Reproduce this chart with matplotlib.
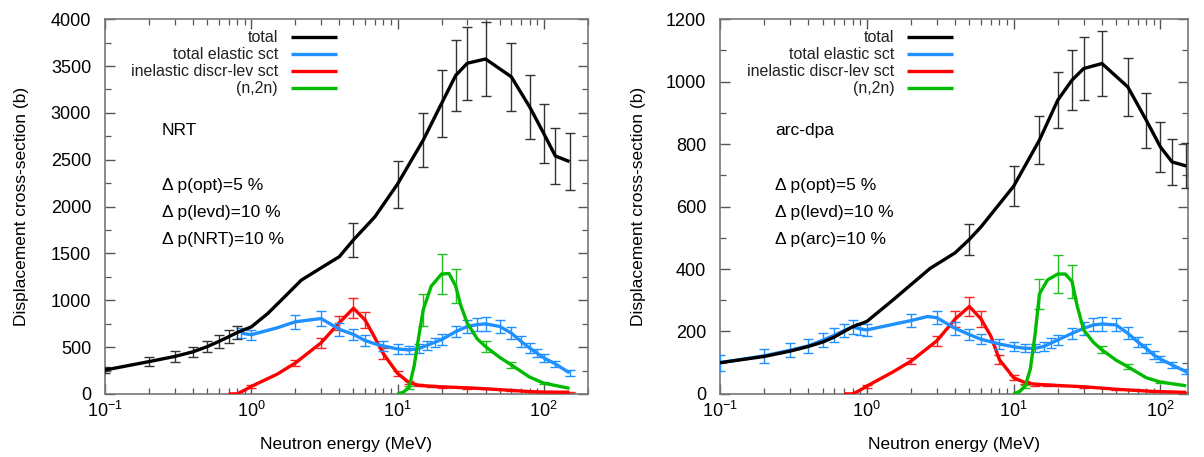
import numpy as np
import matplotlib
matplotlib.use("Agg")
import matplotlib.pyplot as plt
from matplotlib.ticker import LogLocator, MultipleLocator

plt.rcParams['font.family'] = ['Liberation Sans', 'DejaVu Sans']
plt.rcParams['mathtext.fontset'] = 'custom'
plt.rcParams['mathtext.rm'] = 'Liberation Sans'

# ---- left panel: NRT ----
nrt_tot_e = [0.1, 0.2, 0.3, 0.4, 0.5, 0.6, 0.7, 0.8, 1.0, 1.3, 1.7, 2.2, 3.0, 4.0, 5.0, 7.0,
             10, 15, 20, 25, 30, 40, 60, 80, 100, 120, 150]
nrt_tot_v = [255, 345, 400, 450, 505, 560, 610, 655, 715, 860, 1040, 1215, 1345, 1465, 1645, 1890,
             2240, 2710, 3100, 3400, 3530, 3575, 3385, 3065, 2780, 2540, 2480]
nrt_tot_err = [30, 50, 55, 55, 60, 65, 70, 70, 0, 0, 0, 0, 0, 0, 180, 0,
               250, 290, 355, 375, 390, 400, 365, 340, 315, 295, 300]

nrt_el_e = [0.85, 1.0, 1.5, 2.0, 3.0, 4.0, 5.0, 6.0, 7.0, 8.0, 9.0, 10, 12, 14, 16, 18, 20,
            25, 30, 35, 40, 50, 60, 70, 80, 90, 100, 120, 150]
nrt_el_v = [650, 632, 705, 770, 805, 690, 635, 570, 535, 512, 495, 480, 470, 485, 520, 552, 580,
            665, 720, 740, 748, 720, 650, 560, 490, 435, 385, 320, 225]
nrt_el_err = [55, 55, 0, 75, 80, 70, 60, 55, 0, 50, 0, 50, 45, 45, 50, 50, 55,
              60, 65, 70, 75, 70, 65, 55, 50, 45, 40, 35, 30]

nrt_in_e = [0.7, 0.8, 0.9, 1.0, 1.5, 2.0, 3.0, 4.0, 5.0, 6.0, 7.0, 8.0, 10, 12, 14, 17, 20,
            30, 40, 60, 80, 100, 150]
nrt_in_v = [0, 0, 40, 80, 210, 330, 545, 760, 915, 790, 600, 430, 220, 120, 92, 82, 76,
            65, 55, 38, 25, 20, 18]
nrt_in_err = [0, 0, 0, 15, 0, 30, 50, 75, 105, 85, 0, 60, 30, 15, 10, 10, 8,
              8, 6, 5, 4, 3, 3]

nrt_n2n_e = [10, 11, 12, 13, 14, 15, 17, 20, 22.5, 25, 27, 30, 35, 40, 50, 60, 80, 100, 150]
nrt_n2n_v = [0, 20, 70, 300, 620, 900, 1150, 1280, 1285, 1150, 950, 755, 590, 505, 390, 310, 180, 115, 60]
nrt_n2n_err = [0, 0, 15, 0, 0, 170, 0, 210, 0, 180, 0, 0, 0, 60, 0, 30, 0, 10, 0]

# ---- right panel: arc-dpa ----
arc_tot_e = [0.1, 0.2, 0.3, 0.4, 0.5, 0.6, 0.7, 0.8, 1.0, 1.5, 2.0, 2.7, 3.5, 4.0, 5.0, 6.0,
             10, 15, 20, 25, 30, 40, 60, 80, 100, 120, 150]
arc_tot_v = [100, 120, 137, 152, 166, 182, 200, 215, 232, 300, 350, 402, 435, 452, 495, 535,
             665, 813, 941, 1005, 1042, 1058, 983, 877, 791, 743, 730]
arc_tot_err = [0, 0, 0, 0, 0, 0, 0, 0, 0, 0, 0, 0, 0, 0, 50, 0,
               64, 77, 89, 96, 100, 104, 94, 88, 80, 74, 72]

arc_el_e = [0.1, 0.2, 0.3, 0.4, 0.5, 0.6, 0.7, 0.8, 0.9, 1.0, 2.0, 2.6, 3.0, 4.0, 5.0, 6.0, 8.0,
            10, 12, 14, 16, 18, 20, 25, 30, 35, 40, 50, 60, 70, 80, 90, 100, 120, 150]
arc_el_v = [100, 122, 140, 154, 172, 188, 203, 215, 208, 205, 235, 248, 244, 210, 190, 175, 160,
            151, 146, 146, 152, 163, 173, 194, 210, 221, 224, 221, 194, 167, 146, 125, 112, 93, 71]
arc_el_err = [25, 22, 22, 22, 22, 22, 22, 22, 20, 20, 20, 0, 20, 20, 18, 16, 15,
              14, 13, 13, 14, 15, 16, 18, 20, 21, 22, 21, 19, 16, 14, 12, 11, 9, 8]

arc_in_e = [0.7, 0.8, 0.9, 1.0, 1.5, 2.0, 3.0, 4.0, 5.0, 6.0, 7.0, 8.0, 10, 12, 14, 17, 20,
            30, 50, 90, 150]
arc_in_v = [0, 0, 12, 25, 70, 105, 170, 240, 280, 240, 185, 110, 52, 36, 31, 29, 27,
            23, 15, 8, 5]
arc_in_err = [0, 0, 0, 5, 0, 10, 17, 25, 30, 25, 0, 15, 8, 5, 4, 3, 3, 3, 2, 1, 1]

arc_n2n_e = [10, 11, 12, 13, 14, 15, 17, 20, 22.5, 25, 27, 30, 35, 40, 50, 60, 80, 100, 150]
arc_n2n_v = [0, 8, 25, 80, 190, 320, 365, 384, 384, 360, 285, 205, 165, 141, 108, 87, 52, 38, 26]
arc_n2n_err = [0, 0, 5, 0, 0, 48, 0, 62, 0, 52, 0, 0, 0, 11, 0, 8, 0, 4, 0]

labels = ['total', 'total elastic sct', 'inelastic discr-lev sct', '(n,2n)']
colors = ['black', '#1e90ff', '#ff0000', '#00bb00']
bar_colors = ['#333333', '#1e90ff', '#ff2020', '#22c022']


def draw_series(ax, e, v, err, color, bar_color, label, z):
    e, v, err = np.array(e, float), np.array(v, float), np.array(err, float)
    ax.plot(e, v, color=color, lw=2.4, label=label, zorder=z, solid_capstyle='butt')
    m = err > 0
    ax.errorbar(e[m], v[m], yerr=err[m], fmt='none', ecolor=bar_color,
                elinewidth=1.0, capsize=3.5, capthick=1.0, zorder=z - 0.5)


def draw_panel(ax, series, ymax, ystep, yminor, xmax, texts, leg_x):
    # elastic first, total on top of it
    zs = {0: 6, 1: 4, 2: 3, 3: 5}
    for i in [1, 2, 3, 0]:
        e, v, err = series[i]
        draw_series(ax, e, v, err, colors[i], bar_colors[i], labels[i], zs[i])
    ax.set_xscale('log')
    ax.set_xlim(0.1, xmax)
    ax.set_ylim(0, ymax)
    ax.yaxis.set_major_locator(MultipleLocator(ystep))
    ax.yaxis.set_minor_locator(MultipleLocator(yminor))
    ax.xaxis.set_major_locator(LogLocator(base=10, numticks=10))
    ax.xaxis.set_minor_locator(LogLocator(base=10, subs=np.arange(2, 10), numticks=20))
    ax.tick_params(which='both', direction='in', top=True, right=True, color='#555555',
                   labelsize=13, labelcolor='black')
    ax.tick_params(which='major', length=7, width=1.0)
    ax.tick_params(which='minor', length=4, width=0.9)
    ax.tick_params(axis='y', pad=10)
    ax.tick_params(axis='x', pad=5)
    for s in ax.spines.values():
        s.set_color('#777777')
        s.set_linewidth(1.2)
    ax.set_xlabel('Neutron energy (MeV)', fontsize=12.5)
    ax.set_ylabel('Displacement cross-section (b)', fontsize=12.5)
    ax.xaxis.set_label_coords(0.5, -0.115)
    ax.yaxis.set_label_coords(-0.158, 0.5)

    h, l = ax.get_legend_handles_labels()
    lut = dict(zip(l, h))
    ax.legend([lut[k] for k in labels], labels, loc='upper right',
              bbox_to_anchor=(leg_x, 1.0), frameon=False, markerfirst=False,
              fontsize=11.5, labelspacing=0.12, handlelength=2.9, handletextpad=0.8,
              borderpad=0.2, labelcolor='#222222')

    ys = [0.704, 0.557, 0.485, 0.413]
    for t, y in zip(texts, ys):
        ax.text(0.118, y, t, transform=ax.transAxes, fontsize=12.5, va='center', ha='left')


fig = plt.figure(figsize=(12.04, 4.57), dpi=100)
ax1 = fig.add_axes([0.0872, 0.138, 0.401, 0.820])
ax2 = fig.add_axes([0.598, 0.138, 0.389, 0.820])

draw_panel(ax1,
           [(nrt_tot_e, nrt_tot_v, nrt_tot_err), (nrt_el_e, nrt_el_v, nrt_el_err),
            (nrt_in_e, nrt_in_v, nrt_in_err), (nrt_n2n_e, nrt_n2n_v, nrt_n2n_err)],
           4000, 500, 250, 200,
           ['NRT', 'Δ p(opt)=5 %', 'Δ p(levd)=10 %', 'Δ p(NRT)=10 %'], 0.504)
draw_panel(ax2,
           [(arc_tot_e, arc_tot_v, arc_tot_err), (arc_el_e, arc_el_v, arc_el_err),
            (arc_in_e, arc_in_v, arc_in_err), (arc_n2n_e, arc_n2n_v, arc_n2n_err)],
           1200, 200, 100, 155,
           ['arc-dpa', 'Δ p(opt)=5 %', 'Δ p(levd)=10 %', 'Δ p(arc)=10 %'], 0.522)

fig.savefig('out.png', dpi=100)
